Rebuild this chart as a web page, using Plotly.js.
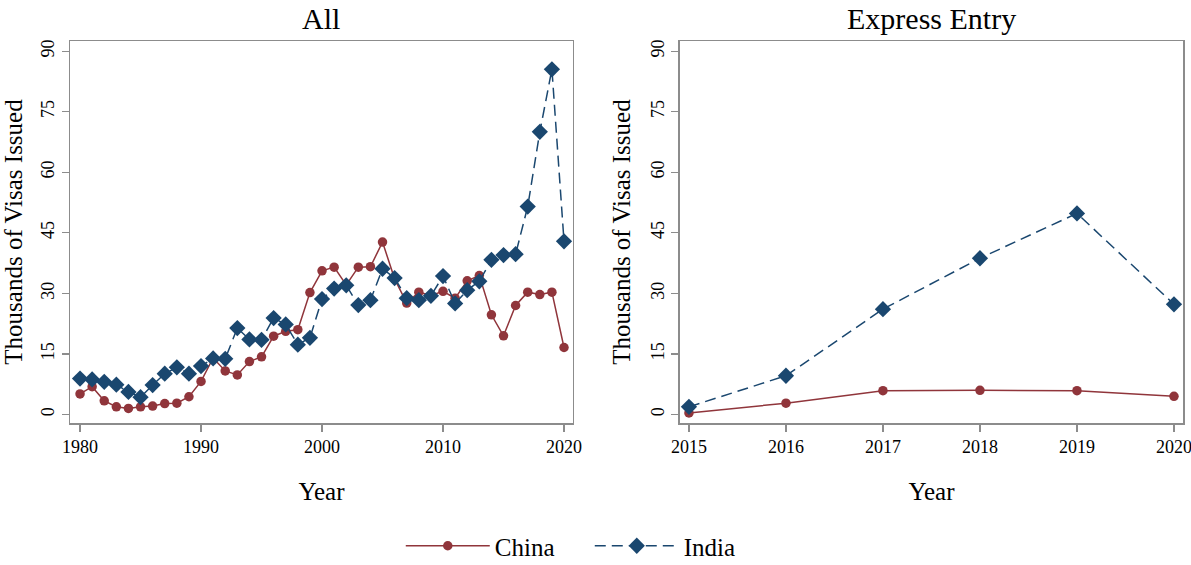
<!DOCTYPE html>
<html>
<head>
<meta charset="utf-8">
<script src="https://cdn.plot.ly/plotly-3.0.1.min.js"></script>
<style>html,body{margin:0;padding:0;background:#fff;}#chart{width:1191px;height:565px;}</style>
</head>
<body>
<div id="chart"></div>
<script>
// ---- Data ----
const yearsAll = [1980,1981,1982,1983,1984,1985,1986,1987,1988,1989,1990,1991,1992,1993,1994,1995,1996,1997,1998,1999,2000,2001,2002,2003,2004,2005,2006,2007,2008,2009,2010,2011,2012,2013,2014,2015,2016,2017,2018,2019,2020];
const chinaAll = [5.1,6.9,3.4,1.9,1.5,1.9,2.1,2.7,2.8,4.4,8.2,14.0,10.8,9.8,13.1,14.3,19.4,20.6,21.0,30.2,35.6,36.5,32.1,36.5,36.6,42.7,33.6,27.6,30.3,29.5,30.5,28.8,33.1,34.4,24.7,19.5,27.0,30.3,29.7,30.3,16.6];
const indiaAll = [8.9,8.7,8.1,7.4,5.6,4.3,7.3,10.1,11.7,10.1,12.0,13.9,13.8,21.4,18.6,18.5,23.9,22.3,17.3,19.0,28.6,31.2,32.0,27.1,28.3,36.1,33.8,28.8,28.3,29.4,34.3,27.5,30.8,33.0,38.3,39.5,39.7,51.5,70.0,85.5,42.9];

const yearsEE = [2015,2016,2017,2018,2019,2020];
const chinaEE = [0.4,2.8,5.9,6.0,5.9,4.5];
const indiaEE = [1.9,9.6,26.1,38.7,49.8,27.3];

const panelTitles = ["All", "Express Entry"];
const seriesNames = ["China", "India"];
const xTicksAll = [1980,1990,2000,2010,2020];
const xTicksEE = [2015,2016,2017,2018,2019,2020];
const yTicks = [0,15,30,45,60,75,90];

// ---- Styles ----
const red = "#90353b";
const blue = "#1a476f";
const frame = "#8c8c8c";
const FONT = "Liberation Serif, Times New Roman, serif";

const chinaStyle = {
  mode: "lines+markers",
  line: {color: red, width: 1.5},
  marker: {color: red, symbol: "circle", size: 9.5}
};
const indiaStyle = {
  mode: "lines+markers",
  line: {color: blue, width: 1.5, dash: "11px,6px"},
  marker: {color: blue, symbol: "diamond", size: 12.5}
};

const traces = [
  Object.assign({x: yearsAll, y: chinaAll, name: seriesNames[0], xaxis: "x", yaxis: "y", legendgroup: "c", showlegend: true}, chinaStyle),
  Object.assign({x: yearsAll, y: indiaAll, name: seriesNames[1], xaxis: "x", yaxis: "y", legendgroup: "i", showlegend: true}, indiaStyle),
  Object.assign({x: yearsEE, y: chinaEE, name: seriesNames[0], xaxis: "x2", yaxis: "y2", legendgroup: "c", showlegend: false}, chinaStyle),
  Object.assign({x: yearsEE, y: indiaEE, name: seriesNames[1], xaxis: "x2", yaxis: "y2", legendgroup: "i", showlegend: false}, indiaStyle)
];

function xAxis(domain, range, ticks, anchor) {
  return {
    domain: domain, range: range, anchor: anchor, automargin: false,
    tickvals: ticks, ticktext: ticks.map(String),
    ticklabeloverflow: "allow",
    showgrid: false, zeroline: false,
    showline: true, mirror: true, linecolor: frame, linewidth: 1.5,
    ticks: "outside", ticklen: 7, tickcolor: frame, tickwidth: 1.2,
    tickfont: {family: FONT, size: 18, color: "#000"},
    title: {text: "Year", font: {family: FONT, size: 25, color: "#000"}, standoff: 26}
  };
}
function yAxis(anchor) {
  return {
    domain: [0, 1], range: [-2.1, 92.5], anchor: anchor, automargin: false,
    tickvals: yTicks, ticktext: yTicks.map(String),
    tickangle: -90,
    showgrid: false, zeroline: false,
    showline: true, mirror: true, linecolor: frame, linewidth: 1.5,
    ticks: "outside", ticklen: 7, tickcolor: frame, tickwidth: 1.2,
    tickfont: {family: FONT, size: 18, color: "#000"},
    title: {text: "Thousands of Visas Issued", font: {family: FONT, size: 25, color: "#000"}, standoff: 10}
  };
}

const layout = {
  width: 1191, height: 565,
  paper_bgcolor: "#fff", plot_bgcolor: "#fff",
  margin: {l: 70, r: 8, t: 41, b: 142, autoexpand: false},
  font: {family: FONT, color: "#000"},
  xaxis: xAxis([0, 0.4519], [1979.17, 2020.74], xTicksAll, "y"),
  yaxis: yAxis("x"),
  xaxis2: xAxis([0.548, 1], [2014.907, 2020.093], xTicksEE, "y2"),
  yaxis2: yAxis("x2"),
  showlegend: true,
  legend: {
    orientation: "h", x: 0.467, xanchor: "center", y: -0.322, yanchor: "middle",
    font: {family: FONT, size: 25, color: "#000"},
    itemwidth: 84, entrywidth: 90, entrywidthmode: "pixels",
    tracegroupgap: 0, bgcolor: "rgba(0,0,0,0)", borderwidth: 0
  },
  annotations: [
    {text: panelTitles[0], xref: "x domain", yref: "paper", x: 0.5, y: 1.06, xanchor: "center", yanchor: "middle", showarrow: false, font: {family: FONT, size: 30, color: "#000"}},
    {text: panelTitles[1], xref: "x2 domain", yref: "paper", x: 0.5, y: 1.06, xanchor: "center", yanchor: "middle", showarrow: false, font: {family: FONT, size: 30, color: "#000"}}
  ]
};

Plotly.newPlot("chart", traces, layout, {staticPlot: true, displayModeBar: false});
</script>
</body>
</html>
